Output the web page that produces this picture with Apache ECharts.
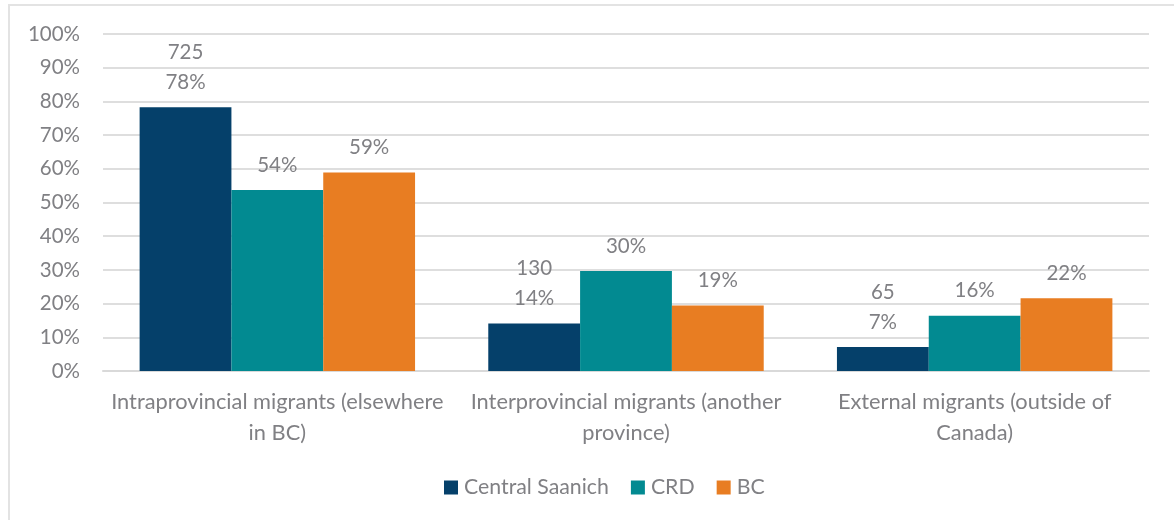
<!DOCTYPE html>
<html>
<head>
<meta charset="utf-8">
<script src="https://cdn.jsdelivr.net/npm/echarts@6/dist/echarts.min.js"></script>
<style>
html,body{margin:0;padding:0;background:#fff;}
#chart{width:1174px;height:520px;}
</style>
</head>
<body>
<div id="chart"></div>
<script>
const categories = [
  "Intraprovincial migrants (elsewhere\nin BC)",
  "Interprovincial migrants (another\nprovince)",
  "External migrants (outside of\nCanada)"
];
const seriesNames = ["Central Saanich", "CRD", "BC"];
const centralSaanich = [78.3, 14.1, 7.1];
const centralSaanichCounts = [725, 130, 65];
const crd = [53.7, 29.7, 16.4];
const bc = [58.9, 19.4, 21.6];
const yTicks = [0, 10, 20, 30, 40, 50, 60, 70, 80, 90, 100];

const colors = ["#05406A", "#028A91", "#E87D22"];
const textColor = "#808084";
const font = "Lato";

const chart = echarts.init(document.getElementById('chart'));

function pctLabel(p) { return Math.round(p.value) + '%'; }

const labelBase = {
  show: true,
  position: 'top',
  distance: 10,
  color: textColor,
  fontFamily: font,
  fontSize: 20.5,
  lineHeight: 30
};

chart.setOption({
  animation: false,
  backgroundColor: '#fff',
  graphic: [{
    type: 'rect',
    shape: { x: 9, y: 5, width: 1200, height: 560 },
    style: { fill: 'none', stroke: '#e3e3e3', lineWidth: 2 },
    silent: true
  }],
  color: colors,
  grid: { left: 103, right: 25, top: 34, bottom: 149 },
  legend: {
    data: seriesNames,
    left: 439,
    top: 472,
    itemWidth: 14,
    itemHeight: 14,
    itemGap: 22,
    icon: 'rect',
    textStyle: { color: textColor, fontFamily: font, fontSize: 21.3, padding: [0, 0, 0, 1] }
  },
  xAxis: {
    type: 'category',
    data: categories,
    axisLine: { lineStyle: { color: '#d9d9d9', width: 2 } },
    axisTick: { show: false },
    axisLabel: {
      color: textColor,
      fontFamily: font,
      fontSize: 21.8,
      lineHeight: 31,
      margin: 15,
      interval: 0
    }
  },
  yAxis: {
    type: 'value',
    min: yTicks[0],
    max: yTicks[yTicks.length - 1],
    interval: 10,
    axisLine: { show: false },
    axisTick: { show: false },
    splitLine: { lineStyle: { color: '#dedede', width: 2 } },
    axisLabel: {
      formatter: '{value}%',
      color: textColor,
      fontFamily: font,
      fontSize: 20.5,
      margin: 23
    }
  },
  series: [
    {
      name: seriesNames[0],
      type: 'bar',
      data: centralSaanich,
      barGap: '0%',
      barCategoryGap: '21%',
      label: Object.assign({}, labelBase, {
        formatter: p => centralSaanichCounts[p.dataIndex] + '\n' + Math.round(p.value) + '%'
      })
    },
    {
      name: seriesNames[1],
      type: 'bar',
      data: crd,
      barGap: '0%',
      barCategoryGap: '21%',
      label: Object.assign({}, labelBase, { formatter: pctLabel })
    },
    {
      name: seriesNames[2],
      type: 'bar',
      data: bc,
      barGap: '0%',
      barCategoryGap: '21%',
      label: Object.assign({}, labelBase, { formatter: pctLabel })
    }
  ]
});
</script>
</body>
</html>
